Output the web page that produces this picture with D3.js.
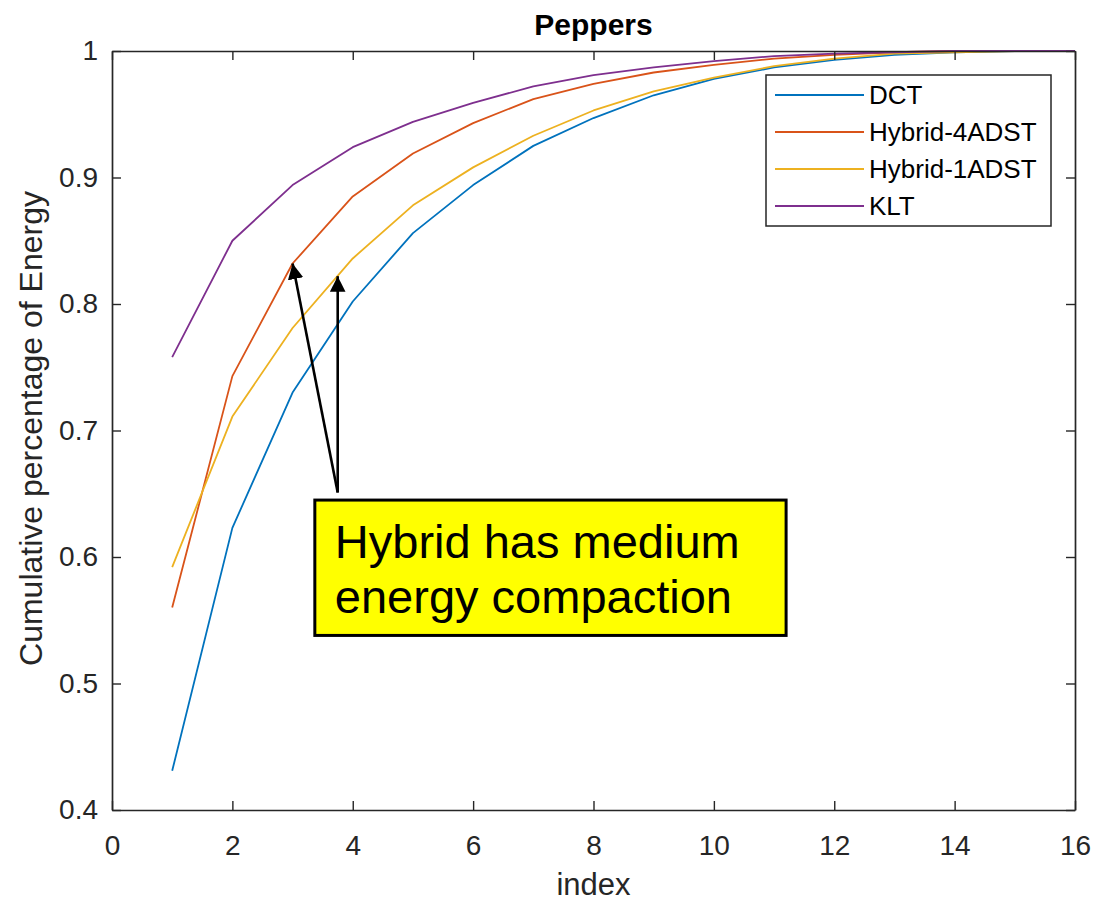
<!DOCTYPE html>
<html>
<head>
<meta charset="utf-8">
<script src="https://cdn.jsdelivr.net/npm/d3@7"></script>
<style>
  html, body { margin: 0; padding: 0; background: #fff; }
  svg { display: block; font-family: "Liberation Sans", Arial, Helvetica, sans-serif; }
</style>
</head>
<body>
<svg id="chart" width="1094" height="907"></svg>
<script>
// Cumulative energy captured by the first N coefficients
const indices = d3.range(1, 17);
const dct         = [0.431, 0.623, 0.730, 0.802, 0.856, 0.894, 0.925, 0.947, 0.965, 0.978, 0.987, 0.993, 0.997, 0.999, 1.000, 1.000];
const hybrid4adst = [0.560, 0.743, 0.832, 0.885, 0.919, 0.943, 0.962, 0.974, 0.983, 0.989, 0.994, 0.997, 0.999, 1.000, 1.000, 1.000];
const hybrid1adst = [0.592, 0.711, 0.781, 0.836, 0.878, 0.908, 0.933, 0.953, 0.968, 0.979, 0.988, 0.994, 0.998, 0.999, 1.000, 1.000];
const klt         = [0.758, 0.850, 0.894, 0.924, 0.944, 0.959, 0.972, 0.981, 0.987, 0.992, 0.996, 0.998, 0.999, 1.000, 1.000, 1.000];

const seriesNames = ["DCT", "Hybrid-4ADST", "Hybrid-1ADST", "KLT"];
const seriesValues = [dct, hybrid4adst, hybrid1adst, klt];
const seriesColors = ["#0072BD", "#D95319", "#EDB120", "#7E2F8E"];

const xTicks = [0, 2, 4, 6, 8, 10, 12, 14, 16];
const yTicks = [0.4, 0.5, 0.6, 0.7, 0.8, 0.9, 1];

const titleText = "Peppers";
const xLabel = "index";
const yLabel = "Cumulative percentage of Energy";
const noteLines = ["Hybrid has medium", "energy compaction"];

// Callout: arrow tips sit on the hybrid curves, tails meet at the box
const arrowTail = { x: 3.75, y: 0.651 };
const arrowTips = [{ x: 3.0, y: 0.832 }, { x: 3.75, y: 0.822 }];
const noteBox = { x0: 3.37, x1: 11.2, y0: 0.538, y1: 0.645 };

const svg = d3.select("#chart");
const W = 1094, H = 907;
const margin = { left: 112, right: W - 1075, top: 51, bottom: H - 810 };

const x = d3.scaleLinear().domain([0, 16]).range([margin.left, W - margin.right]);
const y = d3.scaleLinear().domain([0.4, 1]).range([H - margin.bottom, margin.top]);

const axisColor = "#262626";
const tickLen = 9;
const tickFont = 28;

// Series lines, clipped to the axes box
const defs = svg.append("defs");
defs.append("clipPath").attr("id", "plotClip")
  .append("rect")
  .attr("x", x(0)).attr("y", y(1) - 2)
  .attr("width", x(16) - x(0)).attr("height", y(0.4) - y(1) + 2);

const line = d3.line().x((d, i) => x(indices[i])).y(d => y(d));
const plot = svg.append("g").attr("clip-path", "url(#plotClip)");
seriesValues.forEach((vals, k) => {
  plot.append("path")
    .datum(vals)
    .attr("d", line)
    .attr("fill", "none")
    .attr("stroke", seriesColors[k])
    .attr("stroke-width", 1.8)
    .attr("stroke-linejoin", "round");
});

// Axes: ticks point inward on all four sides
const fmtY = d => (d === 1 ? "1" : d3.format(".1f")(d));
const styleAxis = g => {
  g.selectAll("path.domain").attr("stroke", axisColor).attr("stroke-width", 1.7);
  g.selectAll(".tick line").attr("stroke", axisColor).attr("stroke-width", 1.4);
  g.selectAll(".tick text").attr("fill", axisColor).attr("font-size", tickFont)
    .attr("font-family", "Liberation Sans, Arial, sans-serif");
};

svg.append("g")
  .attr("transform", `translate(0,${y(0.4)})`)
  .call(d3.axisBottom(x).tickValues(xTicks).tickSizeInner(-tickLen).tickSizeOuter(0).tickPadding(25))
  .call(styleAxis);

svg.append("g")
  .attr("transform", `translate(0,${y(1)})`)
  .call(d3.axisTop(x).tickValues(xTicks).tickSizeInner(-tickLen).tickSizeOuter(0).tickFormat(""))
  .call(styleAxis);

svg.append("g")
  .attr("transform", `translate(${x(0)},0)`)
  .call(d3.axisLeft(y).tickValues(yTicks).tickSizeInner(-tickLen).tickSizeOuter(0).tickPadding(14).tickFormat(fmtY))
  .call(styleAxis);

svg.append("g")
  .attr("transform", `translate(${x(16)},0)`)
  .call(d3.axisRight(y).tickValues(yTicks).tickSizeInner(-tickLen).tickSizeOuter(0).tickFormat(""))
  .call(styleAxis);

// Title and axis labels
svg.append("text")
  .attr("x", (x(0) + x(16)) / 2).attr("y", 35)
  .attr("text-anchor", "middle")
  .attr("font-size", 30).attr("font-weight", "bold").attr("fill", "#000")
  .text(titleText);

svg.append("text")
  .attr("x", (x(0) + x(16)) / 2).attr("y", 895)
  .attr("text-anchor", "middle")
  .attr("font-size", 31).attr("fill", axisColor)
  .text(xLabel);

svg.append("text")
  .attr("transform", `translate(42,${(y(0.4) + y(1)) / 2 - 2}) rotate(-90)`)
  .attr("text-anchor", "middle")
  .attr("font-size", 32).attr("fill", axisColor)
  .text(yLabel);

// Legend
const legend = svg.append("g");
legend.append("rect")
  .attr("x", 766).attr("y", 75).attr("width", 285).attr("height", 151)
  .attr("fill", "#fff").attr("stroke", axisColor).attr("stroke-width", 1.5);
seriesNames.forEach((name, k) => {
  const ly = 95 + k * 37;
  legend.append("line")
    .attr("x1", 775).attr("x2", 864).attr("y1", ly).attr("y2", ly)
    .attr("stroke", seriesColors[k]).attr("stroke-width", 1.8);
  legend.append("text")
    .attr("x", 869).attr("y", ly + 9)
    .attr("font-size", 26).attr("fill", "#000")
    .text(name);
});

// Callout arrows
defs.append("marker")
  .attr("id", "arrowHead")
  .attr("viewBox", "0 0 10 10")
  .attr("refX", 10).attr("refY", 5)
  .attr("markerWidth", 6).attr("markerHeight", 6)
  .attr("markerUnits", "strokeWidth")
  .attr("orient", "auto")
  .append("path").attr("d", "M0,0 L10,5 L0,10 Z").attr("fill", "#000");

arrowTips.forEach(tip => {
  svg.append("line")
    .attr("x1", x(arrowTail.x)).attr("y1", y(arrowTail.y))
    .attr("x2", x(tip.x)).attr("y2", y(tip.y))
    .attr("stroke", "#000").attr("stroke-width", 2.6)
    .attr("marker-end", "url(#arrowHead)");
});

// Callout box
svg.append("rect")
  .attr("x", x(noteBox.x0)).attr("y", y(noteBox.y1))
  .attr("width", x(noteBox.x1) - x(noteBox.x0))
  .attr("height", y(noteBox.y0) - y(noteBox.y1))
  .attr("fill", "#FFFF00").attr("stroke", "#000").attr("stroke-width", 3);

noteLines.forEach((t, i) => {
  svg.append("text")
    .attr("x", x(noteBox.x0) + 20).attr("y", y(noteBox.y1) + 58 + i * 55)
    .attr("font-size", 47).attr("fill", "#000")
    .attr("font-family", "Liberation Sans, Arial, sans-serif")
    .text(t);
});
</script>
</body>
</html>
